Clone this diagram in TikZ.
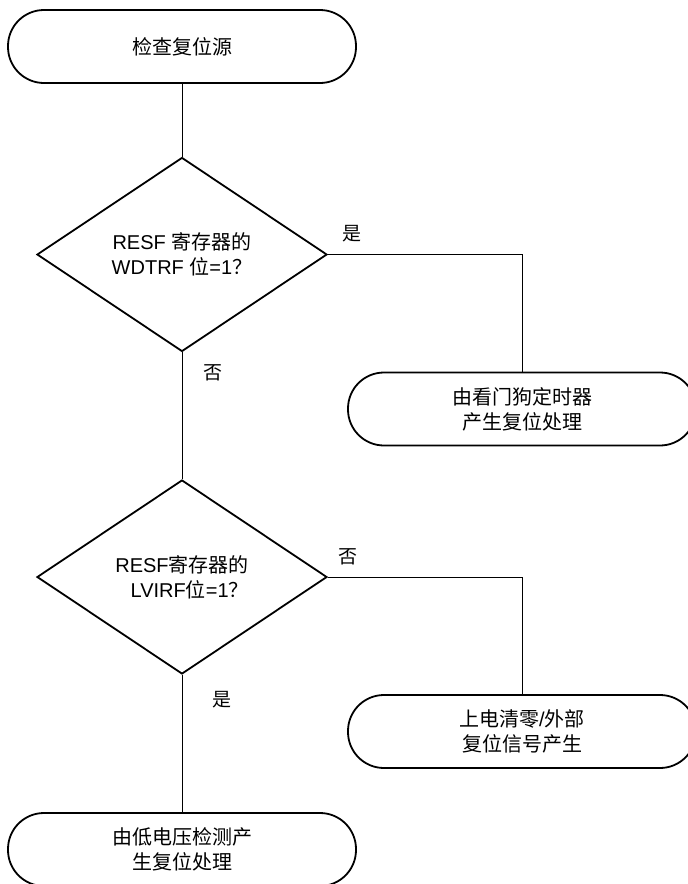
\documentclass[tikz,border=0pt]{standalone}
\usepackage{fontspec}
\setmainfont{Liberation Sans}
\newfontfamily\cjkfont{Noto Sans CJK SC}
\newcommand{\zh}[1]{{\cjkfont #1}}
\usepackage{tikz}
\usetikzlibrary{positioning, shapes.geometric}
\tikzset{
    term/.style={draw, line width=1.8pt, rectangle, rounded corners=36pt,
        minimum width=348pt, minimum height=73pt, inner sep=0pt, align=center,
        font=\cjkfont\fontsize{20}{25}\selectfont},
    test/.style={draw, line width=1.8pt, diamond, aspect=1.5,
        minimum width=290pt, minimum height=194pt, inner sep=0pt,
        font=\fontsize{20}{25}\selectfont},
    lbl/.style={font=\cjkfont\fontsize{19}{22}\selectfont},
    conn/.style={line width=0.9pt}
}

\begin{document}
\begin{tikzpicture}[x=1pt, y=-1pt]
    \useasboundingbox (0,0) rectangle (688,884);

    % --- Start and first test ---
    \node[term] (start) at (182,46.5) {检查复位源};
    \node[test, align=center] (wdtq) at (182,254.5) {RESF \zh{寄存器的}\\WDTRF \zh{位}=1\zh{？}};
    \node[term] (wdt) at (522,409) {由看门狗定时器\\产生复位处理};

    % --- Second test ---
    \node[test, align=right] (lviq) at (182,577) {RESF\zh{寄存器的}\\LVIRF\zh{位}=1\zh{？}};
    \node[term] (por) at (522,731.5) {上电清零{\rmfamily /}外部\\复位信号产生};
    \node[term] (lvi) at (182,849.5) {由低电压检测产\\生复位处理};

    % Connectors
    \draw[conn] (start) -- (wdtq);
    \draw[conn] (wdtq.east) -| (wdt.north);
    \draw[conn] (wdtq) -- (lviq);
    \draw[conn] (lviq.east) -| (por.north);
    \draw[conn] (lviq) -- (lvi);

    % Branch labels
    \node[lbl] (yes1) at (352,234) {是};
    \node[lbl] (no1) at (213,373) {否};
    \node[lbl] (no2) at (348,557) {否};
    \node[lbl] (yes2) at (222,700) {是};

\end{tikzpicture}
\end{document}
